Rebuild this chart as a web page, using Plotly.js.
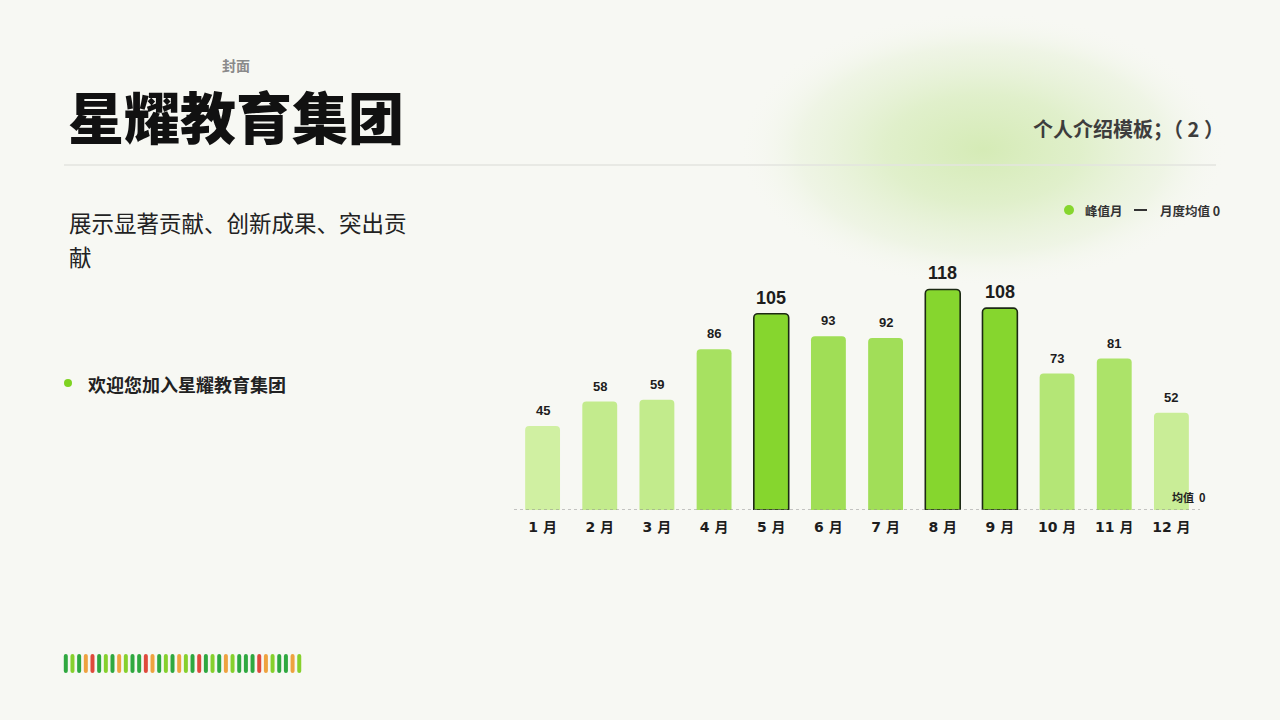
<!DOCTYPE html>
<html>
<head>
<meta charset="utf-8">
<script src="https://cdn.plot.ly/plotly-3.0.1.min.js"></script>
<style>
html,body{margin:0;padding:0;background:#f7f8f3;}
#chart{width:1280px;height:720px;}
</style>
</head>
<body>
<div id="chart"></div>
<script>
// ---- data ----
const months = ['1 月','2 月','3 月','4 月','5 月','6 月','7 月','8 月','9 月','10 月','11 月','12 月'];
const values = [45, 58, 59, 86, 105, 93, 92, 118, 108, 73, 81, 52];
const meanValue = 0;
const peakThreshold = 100;
const titleText = '星耀教育集团';
const coverText = '封面';
const headerRight = '个人介绍模板；（ 2 ）';
const descLine1 = '展示显著贡献、创新成果、突出贡';
const descLine2 = '献';
const bulletText = '欢迎您加入星耀教育集团';
const legendPeak = '峰值月';
const legendMean = '月度均值 0';
const meanLabel = '均值  0';

// ---- geometry helpers (page px -> paper coords) ----
const W = 1280, H = 720;
const M = {l: 514, r: 80, t: 267, b: 210};
const PW = W - M.l - M.r, PH = H - M.t - M.b;
const px = x => (x - M.l) / PW;
const py = y => (H - M.b - y) / PH;

// ---- styles ----
const peakColor = '#86d62e';
function lerpColor(v) {
  const a = [208, 240, 162], b = [160, 222, 86];
  const t = Math.max(0, Math.min(1, (v - 45) / (93 - 45)));
  const c = a.map((x, i) => Math.round(x + (b[i] - x) * t));
  return `rgb(${c[0]},${c[1]},${c[2]})`;
}
const isPeak = values.map(v => v > peakThreshold);
const barColors = values.map((v, i) => isPeak[i] ? peakColor : lerpColor(v));
const lineWidths = isPeak.map(p => p ? 1.6 : 0);

const barTrace = {
  type: 'bar',
  x: months,
  y: values,
  marker: {color: barColors, cornerradius: 4, line: {color: '#1c2914', width: lineWidths}},
  hoverinfo: 'x+y',
  showlegend: false
};

// value labels
const annotations = values.map((v, i) => ({
  xref: 'x', yref: 'y', x: months[i], y: v,
  text: String(v), showarrow: false, yanchor: 'bottom', yshift: isPeak[i] ? 4 : 6,
  font: {family: 'Liberation Sans, Arial, sans-serif', size: isPeak[i] ? 18 : 13, color: '#1d1d1d', weight: 'bold'}
}));

// mean label
annotations.push({
  xref: 'paper', yref: 'y', x: px(1207), y: meanValue, xanchor: 'right', yanchor: 'bottom', yshift: 3,
  text: meanLabel, showarrow: false,
  font: {family: 'Noto Sans CJK SC, DejaVu Sans', size: 11, color: '#222', weight: 'bold'}
});

const cjk = 'Noto Sans CJK SC, Noto Sans, sans-serif';
// page texts
annotations.push(
  {xref:'paper', yref:'paper', x: px(236), y: py(65), text: coverText, showarrow:false, xanchor:'center', yanchor:'middle',
   font:{family:cjk, size:14, color:'#8a8a8a', weight:'bold'}},
  {xref:'paper', yref:'paper', x: px(66), y: py(114), text: titleText, showarrow:false, xanchor:'left', yanchor:'middle',
   font:{family:cjk, size:56, color:'#111111', weight:900}},
  {xref:'paper', yref:'paper', x: px(1226), y: py(129), text: headerRight, showarrow:false, xanchor:'right', yanchor:'middle',
   font:{family:cjk, size:20, color:'#3d3d3d', weight:'bold'}},
  {xref:'paper', yref:'paper', x: px(67), y: py(222), text: descLine1, showarrow:false, xanchor:'left', yanchor:'middle',
   font:{family:cjk, size:22.5, color:'#222222'}},
  {xref:'paper', yref:'paper', x: px(67), y: py(256), text: descLine2, showarrow:false, xanchor:'left', yanchor:'middle',
   font:{family:cjk, size:22.5, color:'#222222'}},
  {xref:'paper', yref:'paper', x: px(86), y: py(384), text: bulletText, showarrow:false, xanchor:'left', yanchor:'middle',
   font:{family:cjk, size:18, color:'#222222', weight:'bold'}},
  // legend
  {xref:'paper', yref:'paper', x: px(1083), y: py(210), text: legendPeak, showarrow:false, xanchor:'left', yanchor:'middle',
   font:{family:cjk, size:12.5, color:'#333', weight:'bold'}},
  {xref:'paper', yref:'paper', x: px(1158), y: py(210), text: legendMean, showarrow:false, xanchor:'left', yanchor:'middle',
   font:{family:cjk, size:12.5, color:'#333', weight:'bold'}}
);

const shapes = [
  // mean line (data-driven y)
  {type:'line', xref:'paper', yref:'y', x0:0, x1:1, y0:meanValue, y1:meanValue,
   line:{color:'#8f8f8f', width:1, dash:'3px,3px'}, layer:'above'},
  // header divider
  {type:'line', xref:'paper', yref:'paper', x0:px(64), x1:px(1216), y0:py(165), y1:py(165),
   line:{color:'#e3e5df', width:1.5}},
  // bullet dot
  {type:'circle', xref:'paper', yref:'paper', x0:px(64), x1:px(72), y0:py(379), y1:py(387),
   fillcolor:'#7ed321', line:{width:0}},
  // legend dot
  {type:'circle', xref:'paper', yref:'paper', x0:px(1064), x1:px(1074), y0:py(205), y1:py(215),
   fillcolor:peakColor, line:{width:0}},
  // legend dash
  {type:'line', xref:'paper', yref:'paper', x0:px(1134), x1:px(1147), y0:py(210), y1:py(210),
   line:{color:'#333', width:2}}
];

// decorative stripe bar
const stripeColors = {d:'#2fa83f', l:'#86d02c', o:'#eea23f', r:'#df4a3b'};
const stripePattern = 'dldordldolddrodldoldrdldoldddrolddol';
for (let i = 0; i < stripePattern.length; i++) {
  const cx = 65.8 + i * 6.67;
  shapes.push({type:'path', xref:'paper', yref:'paper',
    path: roundedStripe(cx, 654, 673, 2),
    fillcolor: stripeColors[stripePattern[i]], line:{width:0}});
}
function roundedStripe(cx, top, bot, r) {
  const x0 = px(cx - r), x1 = px(cx + r);
  const yt = py(top), yb = py(bot), rt = py(top + r), rb = py(bot - r);
  const xm = px(cx);
  return `M ${x0} ${rt} Q ${x0} ${yt} ${xm} ${yt} Q ${x1} ${yt} ${x1} ${rt} L ${x1} ${rb} Q ${x1} ${yb} ${xm} ${yb} Q ${x0} ${yb} ${x0} ${rb} Z`;
}

const blobSvg = '<svg xmlns="http://www.w3.org/2000/svg" width="500" height="280">' +
  '<defs><radialGradient id="g" cx="50%" cy="50%" r="50%">' +
  '<stop offset="0" stop-color="#d5ebb6" stop-opacity="1"/>' +
  '<stop offset="0.4" stop-color="#dfefc9" stop-opacity="0.95"/>' +
  '<stop offset="0.75" stop-color="#ebf3df" stop-opacity="0.7"/>' +
  '<stop offset="1" stop-color="#f7f8f3" stop-opacity="0"/>' +
  '</radialGradient></defs><ellipse cx="250" cy="140" rx="250" ry="140" fill="url(#g)"/></svg>';
const blobUri = 'data:image/svg+xml;charset=utf-8,' + encodeURIComponent(blobSvg);

const layout = {
  width: W, height: H,
  margin: M,
  paper_bgcolor: '#f7f8f3',
  plot_bgcolor: 'rgba(0,0,0,0)',
  bargap: 0.39,
  showlegend: false,
  xaxis: {
    type: 'category', showgrid: false, zeroline: false, showline: false, ticks: '',
    tickfont: {family: 'DejaVu Sans, Noto Sans CJK SC', size: 14, color: '#1d1d1d', weight: 'bold'},
    ticklabelstandoff: 7
  },
  yaxis: {range: [0, 130], visible: false, showgrid: false, zeroline: false},
  annotations: annotations,
  shapes: shapes,
  images: [{source: blobUri, xref:'paper', yref:'paper', x: px(738), y: py(12), sizex: 490/PW, sizey: 275/PH,
    sizing:'stretch', xanchor:'left', yanchor:'top', layer:'below'}]
};

Plotly.newPlot('chart', [barTrace], layout, {displayModeBar: false, staticPlot: true});
</script>
</body>
</html>
